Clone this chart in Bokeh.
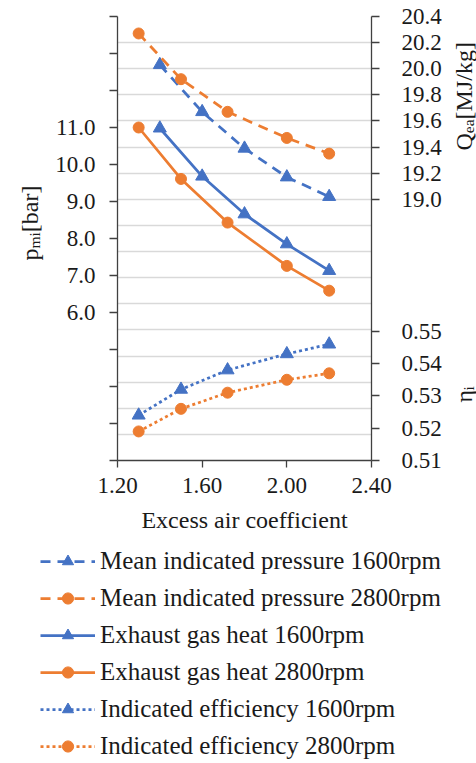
from bokeh.plotting import figure
from bokeh.layouts import column, row
from bokeh.core.properties import value
from bokeh.models import (Range1d, LinearAxis, FixedTicker, CustomJSTickFormatter,
                          NumeralTickFormatter, Grid, Legend, LegendItem)
from bokeh.embed import file_html
from bokeh.resources import INLINE

# ---------------- data ----------------
lambda_a = [1.30, 1.50, 1.72, 2.00, 2.20]   # 2800 rpm points and efficiency 1600 rpm
lambda_b = [1.40, 1.60, 1.80, 2.00, 2.20]   # 1600 rpm points
mip_1600 = [20.03, 19.67, 19.39, 19.17, 19.02]
mip_2800 = [20.27, 19.92, 19.67, 19.47, 19.35]
egh_1600 = [10.98, 9.68, 8.66, 7.85, 7.13]
egh_2800 = [11.00, 9.61, 8.43, 7.26, 6.59]
eff_1600 = [0.524, 0.532, 0.538, 0.543, 0.546]
eff_2800 = [0.519, 0.526, 0.531, 0.535, 0.537]

x_ticks = [1.2, 1.6, 2.0, 2.4]
pmi_ticks = [2, 3, 4, 5, 6, 7, 8, 9, 10, 11, 12, 13, 14]
pmi_labeled_min, pmi_labeled_max = 6, 11
qea_ticks = [19.0, 19.2, 19.4, 19.6, 19.8, 20.0, 20.2, 20.4]
eta_ticks = [0.51, 0.52, 0.53, 0.54, 0.55]
grid_ticks = [17.0, 17.2, 17.4, 17.6, 17.8, 18.0, 18.2, 18.4, 18.6, 18.8,
              19.0, 19.2, 19.4, 19.6, 19.8, 20.0, 20.2, 20.4]
legend_labels = ["Mean indicated pressure 1600rpm",
                 "Mean indicated pressure 2800rpm",
                 "Exhaust gas heat 1600rpm",
                 "Exhaust gas heat 2800rpm",
                 "Indicated efficiency 1600rpm",
                 "Indicated efficiency 2800rpm"]

X_MIN, X_MAX = 1.2, 2.4
Q_MIN, Q_MAX = 17.0, 20.4
P_MIN, P_MAX = 2.0, 14.0
E_MIN, E_MAX = 0.51, 0.6475

BLUE = "#4472C4"
ORANGE = "#ED7D31"
AXIS = "#404040"
TEXT = "#1a1a1a"
FONT = "Liberation Serif"

LW = 2.75
DASH = "10 7"
DOT = "3 3"

MAIN_H = 540
LEFT_W = 48
MAIN_W = 396
RIGHT_W = 32
LEG_H = 220
BORDER_TOP = 16
BORDER_BOTTOM = 80

# ---------------- main plot ----------------
p = figure(width=MAIN_W, height=MAIN_H, output_backend="svg", toolbar_location=None,
           x_range=Range1d(X_MIN, X_MAX), y_range=Range1d(Q_MIN, Q_MAX),
           x_axis_location=None, y_axis_location=None,
           min_border_left=69, min_border_right=68, min_border_top=BORDER_TOP,
           min_border_bottom=BORDER_BOTTOM)
p.extra_y_ranges = {"p": Range1d(P_MIN, P_MAX), "eta": Range1d(E_MIN, E_MAX)}
p.outline_line_color = None
p.background_fill_color = "white"
p.border_fill_color = "white"
p.grid.visible = False


def style_axis(ax):
    ax.axis_line_color = AXIS
    ax.axis_line_width = 1.3
    ax.major_tick_line_color = AXIS
    ax.major_tick_line_width = 1.3
    ax.major_tick_in = 0
    ax.minor_tick_line_color = None
    ax.major_label_text_font = FONT
    ax.major_label_text_font_size = "23px"
    ax.major_label_text_color = TEXT


xax = LinearAxis(ticker=FixedTicker(ticks=x_ticks),
                 formatter=NumeralTickFormatter(format="0.00"),
                 axis_label="Excess air coefficient")
style_axis(xax)
xax.major_tick_out = 7
xax.major_label_standoff = 10
xax.axis_label_text_font = FONT
xax.axis_label_text_font_size = "24px"
xax.axis_label_text_font_style = "normal"
xax.axis_label_text_color = TEXT
xax.axis_label_standoff = 11
p.add_layout(xax, "below")

lax = LinearAxis(y_range_name="p", ticker=FixedTicker(ticks=pmi_ticks),
                 formatter=CustomJSTickFormatter(
                     args=dict(lo=pmi_labeled_min, hi=pmi_labeled_max),
                     code="return (tick >= lo && tick <= hi) ? tick.toFixed(1) : '';"))
style_axis(lax)
lax.major_tick_out = 8
lax.major_label_standoff = 14
p.add_layout(lax, "left")


def q_of_eta(e):
    return Q_MIN + (e - E_MIN) * (Q_MAX - Q_MIN) / (E_MAX - E_MIN)


rax = LinearAxis(ticker=FixedTicker(ticks=qea_ticks + [q_of_eta(e) for e in eta_ticks]),
                 formatter=CustomJSTickFormatter(
                     args=dict(q0=Q_MIN, q1=Q_MAX, e0=E_MIN, e1=E_MAX, qlow=qea_ticks[0]),
                     code="""
                     if (tick >= qlow - 0.05) { return tick.toFixed(1); }
                     const e = e0 + (tick - q0) * (e1 - e0) / (q1 - q0);
                     return e.toFixed(2);
                     """))
style_axis(rax)
rax.major_tick_out = 8
rax.major_label_standoff = 22
p.add_layout(rax, "right")

p.add_layout(Grid(dimension=1, ticker=FixedTicker(ticks=grid_ticks),
                  grid_line_color="#d9d9d9", grid_line_width=1.3))

# series
p.line(lambda_b, mip_1600, line_color=BLUE, line_width=LW, line_dash=DASH)
p.scatter(lambda_b, mip_1600, marker="triangle", size=13, fill_color=BLUE, line_color=BLUE)
p.line(lambda_a, mip_2800, line_color=ORANGE, line_width=LW, line_dash=DASH)
p.scatter(lambda_a, mip_2800, marker="circle", size=11, fill_color=ORANGE, line_color=ORANGE)
p.line(lambda_b, egh_1600, y_range_name="p", line_color=BLUE, line_width=LW)
p.scatter(lambda_b, egh_1600, y_range_name="p", marker="triangle", size=13,
          fill_color=BLUE, line_color=BLUE)
p.line(lambda_a, egh_2800, y_range_name="p", line_color=ORANGE, line_width=LW)
p.scatter(lambda_a, egh_2800, y_range_name="p", marker="circle", size=11,
          fill_color=ORANGE, line_color=ORANGE)
p.line(lambda_a, eff_1600, y_range_name="eta", line_color=BLUE, line_width=LW, line_dash=DOT)
p.scatter(lambda_a, eff_1600, y_range_name="eta", marker="triangle", size=13,
          fill_color=BLUE, line_color=BLUE)
p.line(lambda_a, eff_2800, y_range_name="eta", line_color=ORANGE, line_width=LW, line_dash=DOT)
p.scatter(lambda_a, eff_2800, y_range_name="eta", marker="circle", size=11,
          fill_color=ORANGE, line_color=ORANGE)


# ---------------- title strips: same vertical frame as the main plot ----------------
# y is measured in pixels from the bottom of the strip canvas
def strip(w):
    f = figure(width=w, height=MAIN_H, output_backend="svg", toolbar_location=None,
               x_range=Range1d(0, w),
               y_range=Range1d(BORDER_BOTTOM, MAIN_H - BORDER_TOP),
               x_axis_location=None, y_axis_location=None,
               min_border_left=0, min_border_right=0,
               min_border_top=BORDER_TOP, min_border_bottom=BORDER_BOTTOM)
    f.grid.visible = False
    f.outline_line_color = None
    f.background_fill_color = "white"
    f.border_fill_color = "white"
    return f


TFS = 24     # title font size
SFS = 15.5   # subscript font size
SUB = 4.5    # subscript drop


def rotated_title(fig, x_base, y_start, parts):
    y = y_start
    for txt, is_sub, adv in parts:
        fig.text(x=[x_base + (SUB if is_sub else 0)], y=[y], text=[txt],
                 angle=90, angle_units="deg",
                 text_align="left", text_baseline="alphabetic",
                 text_font=value(FONT),
                 text_font_size=value(f"{SFS if is_sub else TFS}px"),
                 text_color=TEXT)
        y += adv


left = strip(LEFT_W)
rotated_title(left, 29, MAIN_H - 260, [("p", False, 0.5 * TFS),
                                       ("mi", True, 1.056 * SFS),
                                       (" [bar]", False, 0)])

right = strip(RIGHT_W)
rotated_title(right, 19, MAIN_H - 150, [("Q", False, 0.722 * TFS),
                                        ("ea", True, 0.888 * SFS),
                                        ("[MJ/kg]", False, 0)])
rotated_title(right, 19, MAIN_H - 402, [("η", False, 0.5 * TFS),
                                        ("i", True, 0)])

# ---------------- legend canvas ----------------
# legend samples reuse the series; the canvas range keeps them out of view
leg = figure(width=LEFT_W + MAIN_W + RIGHT_W, height=LEG_H, output_backend="svg",
             toolbar_location=None, x_range=Range1d(100, 101), y_range=Range1d(100, 101),
             x_axis_location=None, y_axis_location=None,
             min_border=0, min_border_left=0, min_border_right=0,
             min_border_top=0, min_border_bottom=0)
leg.grid.visible = False
leg.outline_line_color = None
leg.border_fill_color = "white"

series = [(lambda_b, mip_1600, BLUE, DASH, "triangle", 13),
          (lambda_a, mip_2800, ORANGE, DASH, "circle", 11),
          (lambda_b, egh_1600, BLUE, "solid", "triangle", 13),
          (lambda_a, egh_2800, ORANGE, "solid", "circle", 11),
          (lambda_a, eff_1600, BLUE, DOT, "triangle", 13),
          (lambda_a, eff_2800, ORANGE, DOT, "circle", 11)]
items = []
for lab, (xs, ys, c, d, m, s) in zip(legend_labels, series):
    lr = leg.line(xs, ys, line_color=c, line_width=LW, line_dash=d)
    sr = leg.scatter(xs, ys, marker=m, size=s, fill_color=c, line_color=c)
    items.append(LegendItem(label=lab, renderers=[lr, sr]))
legend = Legend(items=items, location=(40, 0), orientation="vertical",
                glyph_width=55, glyph_height=28, label_height=28, spacing=9,
                label_standoff=5, padding=0, margin=0,
                border_line_color=None, background_fill_alpha=0,
                label_text_font=FONT, label_text_font_size="25px",
                label_text_color=TEXT)
leg.add_layout(legend)

layout = column(row(left, p, right), leg)
open("out.html", "w").write(file_html(layout, INLINE))
